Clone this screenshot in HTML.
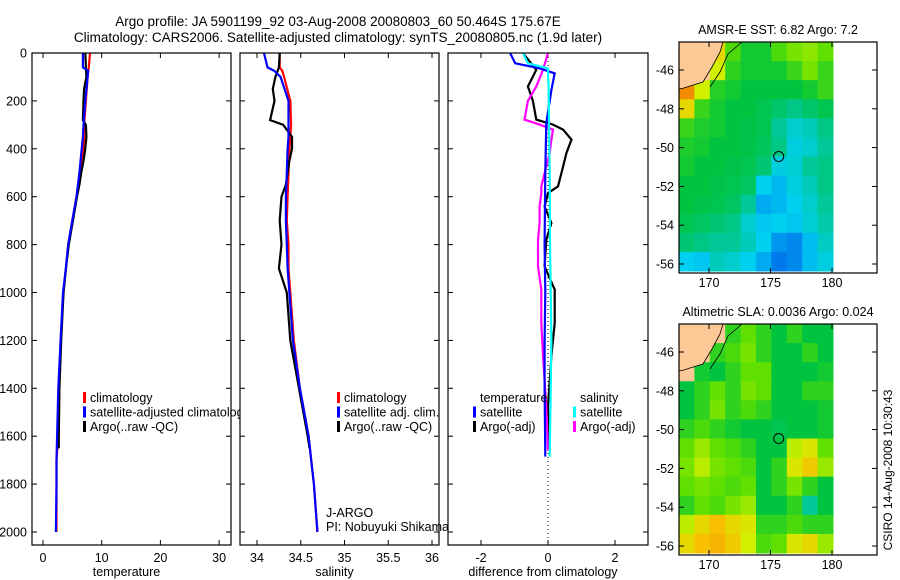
<!DOCTYPE html>
<html><head><meta charset="utf-8"><style>
body{margin:0;background:#fff}
svg{display:block;font-family:"Liberation Sans",sans-serif}
text{fill:#000}
</style></head><body>
<svg id="fig" width="900" height="580" viewBox="0 0 900 580">
<text x="338" y="26" font-size="13.5" text-anchor="middle">Argo profile: JA 5901199_92 03-Aug-2008 20080803_60 50.464S 175.67E</text>
<text x="338" y="42" font-size="13.5" text-anchor="middle">Climatology: CARS2006. Satellite-adjusted climatology: synTS_20080805.nc (1.9d later)</text>
<g id="plots"></g>
<text transform="translate(892,470) rotate(-90)" font-size="12" text-anchor="middle">CSIRO 14-Aug-2008 10:30:43</text>
</svg>
<script>
// ---- Profile data ----
const tDepth = [0,60,75,100,200,300,350,400,500,600,700,800,900,1000,1200,1400,1600,1700,1800,2000];
const tClim  = [8.0,7.8,7.7,7.6,7.3,7.0,7.0,6.9,6.3,5.7,5.0,4.3,3.9,3.5,3.0,2.7,2.6,2.3,2.3,2.3];
const tSat   = [6.8,6.8,7.7,7.6,7.2,6.9,6.8,6.6,6.2,5.7,5.0,4.3,3.9,3.4,3.0,2.6,2.4,2.3,2.3,2.2];
const aDepth = [0,60,100,150,200,280,300,350,400,450,500,550,600,700,800,900,1000,1200,1400,1600,1650];
const tArgo  = [7.2,7.3,7.4,7.0,6.9,6.8,7.3,7.4,7.2,6.9,6.5,6.2,5.8,5.1,4.4,3.9,3.5,3.1,2.8,2.7,2.7];
const sClim  = [34.26,34.26,34.29,34.31,34.38,34.39,34.38,34.37,34.36,34.35,34.34,34.36,34.36,34.38,34.42,34.49,34.59,34.62,34.65,34.69];
const sSat   = [34.08,34.12,34.2,34.27,34.36,34.36,34.36,34.35,34.34,34.33,34.33,34.34,34.35,34.37,34.41,34.49,34.59,34.62,34.65,34.69];
const sArgo  = [34.26,34.25,34.21,34.18,34.2,34.15,34.3,34.4,34.4,34.37,34.35,34.33,34.28,34.26,34.28,34.25,34.34,34.38,34.48,34.58,34.6];
const dDepthT = [0,43,64,85,154,293,500,800,1000,1200,1400,1685];
const dTSat   = [-1.13,-0.98,-0.25,0.2,0.1,-0.05,-0.08,-0.1,-0.08,-0.1,-0.1,-0.08];
const dSSat   = [-0.75,-0.6,0.0,0.0,0.02,0.03,0.05,0.06,0.08,0.1,0.08,0.05];
const dDepthA = [0,70,140,200,278,299,320,362,418,474,557,585,641,710,780,891,988,1127,1266,1475,1660];
const dTArgo  = [-0.75,-0.35,-0.6,-0.45,-0.35,0.15,0.45,0.7,0.55,0.45,0.3,0.0,-0.1,0.1,-0.05,-0.1,0.2,0.2,0.1,0.0,0.05];
const dSArgo  = [0.0,-0.15,-0.35,-0.6,-0.7,-0.25,0.15,0.1,0.05,-0.05,-0.2,-0.2,-0.25,-0.25,-0.3,-0.3,-0.2,-0.2,-0.15,-0.05,0.0];
const depthTicks = [0,200,400,600,800,1000,1200,1400,1600,1800,2000];
const tTicks = [0,10,20,30];
const sTicks = [34,34.5,35,35.5,36];
const dTicks = [-2,0,2];
// ---- Map data (rows north->south, cols west->east; -1 = land) ----
const sstGrid = [
[-1,-1,0.75,0.58,0.52,0.52,0.58,0.62,0.64,0.6],
[-1,-1,0.7,0.55,0.52,0.52,0.52,0.56,0.62,0.56],
[0.88,0.7,0.54,0.52,0.5,0.5,0.5,0.5,0.52,0.56],
[0.75,0.56,0.52,0.5,0.5,0.48,0.45,0.42,0.45,0.48],
[0.56,0.53,0.52,0.5,0.49,0.48,0.4,0.34,0.36,0.42],
[0.53,0.52,0.5,0.5,0.49,0.47,0.42,0.32,0.34,0.4],
[0.52,0.5,0.5,0.49,0.48,0.44,0.32,0.33,0.4,0.42],
[0.5,0.5,0.49,0.48,0.46,0.3,0.25,0.32,0.36,0.42],
[0.5,0.49,0.48,0.46,0.4,0.22,0.25,0.3,0.34,0.4],
[0.48,0.46,0.44,0.42,0.34,0.28,0.3,0.28,0.33,0.38],
[0.44,0.42,0.4,0.4,0.36,0.3,0.18,0.15,0.26,0.35],
[0.3,0.28,0.36,0.34,0.3,0.22,0.12,0.15,0.26,0.32]];
const slaGrid = [
[-1,-1,-1,0.55,0.6,0.55,0.5,0.55,0.5,0.5],
[-1,-1,0.55,0.58,0.62,0.55,0.5,0.5,0.55,0.5],
[-1,0.52,0.5,0.55,0.6,0.6,0.5,0.5,0.5,0.52],
[0.5,0.55,0.6,0.55,0.62,0.6,0.5,0.5,0.55,0.55],
[0.5,0.55,0.62,0.55,0.58,0.55,0.5,0.5,0.5,0.52],
[0.55,0.58,0.55,0.52,0.5,0.5,0.48,0.5,0.5,0.52],
[0.6,0.65,0.6,0.58,0.55,0.5,0.5,0.68,0.72,0.6],
[0.62,0.68,0.62,0.6,0.58,0.5,0.55,0.72,0.78,0.65],
[0.6,0.62,0.6,0.58,0.6,0.5,0.55,0.62,0.55,0.5],
[0.55,0.6,0.58,0.62,0.65,0.5,0.5,0.55,0.4,0.5],
[0.68,0.75,0.8,0.75,0.72,0.55,0.55,0.58,0.55,0.55],
[0.75,0.8,0.82,0.78,0.7,0.58,0.6,0.72,0.75,0.65]];
const latTicks = [-46,-48,-50,-52,-54,-56];
const lonTicks = [170,175,180];
const argoLon = 175.67, argoLat = -50.46;

const NS='http://www.w3.org/2000/svg';
const root=document.getElementById('plots');
function mk(tag,attrs,parent){const e=document.createElementNS(NS,tag);for(const k in attrs)e.setAttribute(k,attrs[k]);(parent||root).appendChild(e);return e;}
function txt(s,x,y,attrs,parent){const e=mk('text',Object.assign({x:x,y:y,'font-size':12},attrs||{}),parent);e.textContent=s;return e;}

const Y0=53, KY=0.2395, PT=53, PB=545;
const yD=d=>Y0+d*KY;
const panels=[
 {name:'temperature',x0:32,x1:231,f:v=>43+v*5.87,ticks:tTicks,label:'temperature'},
 {name:'salinity',x0:240,x1:439,f:v=>257+(v-34)*87.5,ticks:sTicks,label:'salinity'},
 {name:'difference',x0:448,x1:648,f:v=>548+v*33.5,ticks:dTicks,label:'difference from climatology'}];

function line(p,depths,vals,color,name){
  const pts=depths.map((d,i)=>p.f(vals[i]).toFixed(1)+','+yD(d).toFixed(1)).join(' ');
  const e=mk('polyline',{points:pts,fill:'none',stroke:color,'stroke-width':2.2,'stroke-linejoin':'miter'},p.g);
  
  
}
function legend(p,items,x,y){
  items.forEach((it,i)=>{
    if(it[1]){const r=mk('rect',{x:x,y:y+i*14.5-10,width:3,height:11,fill:it[1]},p.g);
      
      }
    const t=txt(it[0],x+7,y+i*14.5,{'font-size':12.5},p.g);
    
    
  });
}
panels.forEach((p,pi)=>{
  p.g=mk('g',{});
  
  
  mk('rect',{x:p.x0,y:PT,width:p.x1-p.x0,height:PB-PT,fill:'#fff'},p.g);
});
panels.forEach((p,pi)=>{
  const g=p.g;
  depthTicks.forEach(d=>{
    mk('line',{x1:p.x0,x2:p.x0+5,y1:yD(d),y2:yD(d),stroke:'#000'},g);
    mk('line',{x1:p.x1,x2:p.x1-5,y1:yD(d),y2:yD(d),stroke:'#000'},g);
    if(pi===0){const t=txt(String(d),27,yD(d)+4.5,{'text-anchor':'end','font-size':12.5},g);
      
      }
  });
  p.ticks.forEach(v=>{
    const x=p.f(v);
    mk('line',{x1:x,x2:x,y1:PB,y2:PB-5,stroke:'#000'},g);
    mk('line',{x1:x,x2:x,y1:PT,y2:PT+5,stroke:'#000'},g);
    const t=txt(String(v),x,562,{'text-anchor':'middle','font-size':12.5},g);
    
    
  });
  const xl=txt(p.label,(p.x0+p.x1)/2-5,576,{'text-anchor':'middle','font-size':12.5},g);
  
  
  if(pi===0){
    line(p,tDepth,tClim,'#f00','temp-climatology');
    line(p,aDepth,tArgo,'#000','temp-argo');
    line(p,tDepth,tSat,'#00f','temp-satellite-adjusted');
    legend(p,[['climatology','#f00'],['satellite-adjusted climatology','#00f'],['Argo(..raw -QC)','#000']],83,402);
  } else if(pi===1){
    line(p,tDepth,sClim,'#f00','sal-climatology');
    line(p,aDepth,sArgo,'#000','sal-argo');
    line(p,tDepth,sSat,'#00f','sal-satellite-adjusted');
    legend(p,[['climatology','#f00'],['satellite adj. clim.','#00f'],['Argo(..raw -QC)','#000']],337,402);
    const a=txt('J-ARGO',326,517,{'font-size':12.5},g);
    
    
    const b=txt('PI: Nobuyuki Shikama',326,531,{'font-size':12.5},g);
    
    
  } else {
    mk('line',{x1:p.f(0),x2:p.f(0),y1:PT,y2:PB,stroke:'#000','stroke-dasharray':'1,3'},g);
    line(p,dDepthA,dTArgo,'#000','temp-argo-diff');
    line(p,dDepthA,dSArgo,'#f0f','sal-argo-diff');
    line(p,dDepthT,dTSat,'#00f','temp-satellite-diff');
    line(p,dDepthT,dSSat,'#0ff','sal-satellite-diff');
    legend(p,[['temperature',null],['satellite','#00f'],['Argo(-adj)','#000']],473,402);
    legend(p,[['salinity',null],['satellite','#0ff'],['Argo(-adj)','#f0f']],573,402);
  }
  mk('rect',{x:p.x0,y:PT,width:p.x1-p.x0,height:PB-PT,fill:'none',stroke:'#000','stroke-width':1.2},g);
});

// ---- maps ----
const stops=[[0,[0,64,224]],[0.2,[0,160,240]],[0.3,[0,208,240]],[0.4,[0,200,150]],[0.5,[0,196,64]],[0.6,[96,224,0]],[0.7,[208,240,0]],[0.8,[248,192,0]],[0.9,[240,128,0]],[1,[224,32,0]]];
function cmap(v){
  if(v<0)return '#fcc896';
  for(let i=1;i<stops.length;i++){if(v<=stops[i][0]){const a=stops[i-1],b=stops[i],t=(v-a[0])/(b[0]-a[0]);
    const c=a[1].map((x,k)=>Math.round(x+(b[1][k]-x)*t));return 'rgb('+c.join(',')+')';}}
  return 'rgb(224,32,0)';
}
function drawMap(name,title,grid,top){
  const g=mk('g',{});
  
  
  const X0=679,X1=877,IX1=833,bottom=top+231, ibot=top+229;
  const lat46=top+28;
  const lonX=l=>832-(180-l)*12.3;
  const latY=l=>lat46+(-46-l)*19.4;
  const tt=txt(title,778,top-8,{'text-anchor':'middle','font-size':12.5},g);
  
  
  const rows=grid.length, cols=grid[0].length;
  const cw=(IX1-X0)/cols, ch=(ibot-top)/rows;
  grid.forEach((row,r)=>row.forEach((v,c)=>{
    const cell=mk('rect',{x:(X0+c*cw).toFixed(2),y:(top+r*ch).toFixed(2),width:(cw+0.5).toFixed(2),height:(ch+0.5).toFixed(2),fill:cmap(v)},g);
    
    
  }));
  const land=mk('path',{d:`M${X0},${top} L723,${top} L720,${top+10} L712,${top+25} L703,${top+40} L690,${top+44} L684,${top+46} L679,${top+47} Z`,fill:'#fcc896',stroke:'#000','stroke-width':0.8},g);
  
  
  mk('path',{d:`M742,${top} L728,${top+12} L720,${top+30} L710,${top+45}`,fill:'none',stroke:'#000','stroke-width':0.8},g);
  const circ=mk('circle',{cx:lonX(argoLon),cy:latY(argoLat),r:5,fill:'none',stroke:'#000','stroke-width':1},g);
  
  
  latTicks.forEach(l=>{
    const y=latY(l);
    mk('line',{x1:X0,x2:X0+5,y1:y,y2:y,stroke:'#000'},g);
    mk('line',{x1:X1,x2:X1-5,y1:y,y2:y,stroke:'#000'},g);
    const t=txt(String(l),674,y+4.5,{'text-anchor':'end','font-size':12.5},g);
    
    
  });
  lonTicks.forEach(l=>{
    const x=lonX(l);
    mk('line',{x1:x,x2:x,y1:top,y2:top+5,stroke:'#000'},g);
    mk('line',{x1:x,x2:x,y1:bottom,y2:bottom-5,stroke:'#000'},g);
    const t=txt(String(l),x,bottom+14,{'text-anchor':'middle','font-size':12.5},g);
    
    
  });
  mk('rect',{x:X0,y:top,width:X1-X0,height:bottom-top,fill:'none',stroke:'#000','stroke-width':1.2},g);
}
drawMap('sst-map','AMSR-E SST: 6.82 Argo: 7.2',sstGrid,42);
drawMap('sla-map','Altimetric SLA: 0.0036 Argo: 0.024',slaGrid,324);
</script>
</body></html>
